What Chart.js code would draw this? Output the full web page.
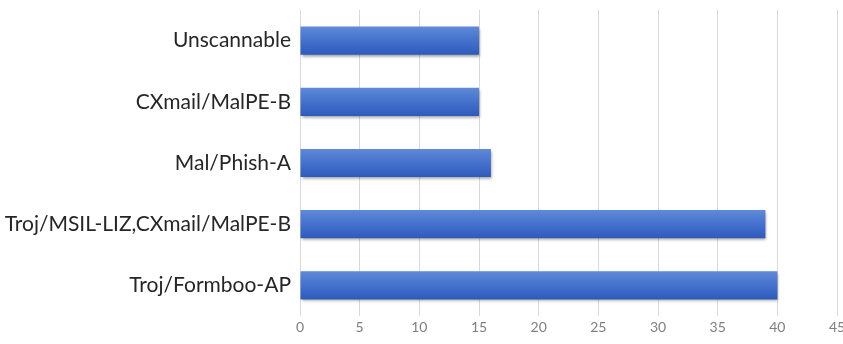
<!DOCTYPE html>
<html>
<head>
<meta charset="utf-8">
<script src="https://cdn.jsdelivr.net/npm/chart.js@4"></script>
<style>
  html, body { margin: 0; padding: 0; background: #fff; }
  #wrap { width: 843px; height: 344px; }
</style>
</head>
<body>
<div id="wrap"><canvas id="barChart" width="843" height="344"></canvas></div>
<script>
const categories = ['Unscannable', 'CXmail/MalPE-B', 'Mal/Phish-A', 'Troj/MSIL-LIZ,CXmail/MalPE-B', 'Troj/Formboo-AP'];
const counts = [15, 15, 16, 39, 40];
const xTicks = [0, 5, 10, 15, 20, 25, 30, 35, 40, 45];

const BAR_PCT = 0.46;

// soft drop shadow under the bars
const barShadow = {
  id: 'barShadow',
  beforeDatasetsDraw(chart) {
    const ctx = chart.ctx;
    ctx.save();
    ctx.shadowColor = 'rgba(0,0,0,0.4)';
    ctx.shadowBlur = 3;
    ctx.shadowOffsetX = 1;
    ctx.shadowOffsetY = 2;
  },
  afterDatasetsDraw(chart) {
    chart.ctx.restore();
  }
};

// vertical gradient per bar, worked out from the category scale
function barFill(context) {
  const chart = context.chart;
  const yScale = chart.scales.y;
  if (!yScale || context.dataIndex === undefined) return '#4472c4';
  const yc = yScale.getPixelForValue(context.dataIndex);
  const h = (yScale.height / categories.length) * BAR_PCT;
  if (!isFinite(yc) || !isFinite(h) || h <= 0) return '#4472c4';
  const g = chart.ctx.createLinearGradient(0, yc - h / 2, 0, yc + h / 2);
  g.addColorStop(0, '#5f8ad8');
  g.addColorStop(0.5, '#4471cc');
  g.addColorStop(1, '#2e5bbb');
  return g;
}

const ctx = document.getElementById('barChart').getContext('2d');
new Chart(ctx, {
  type: 'bar',
  data: {
    labels: categories,
    datasets: [{
      data: counts,
      backgroundColor: barFill,
      borderWidth: 0,
      categoryPercentage: 1,
      barPercentage: BAR_PCT
    }]
  },
  plugins: [barShadow],
  options: {
    indexAxis: 'y',
    responsive: false,
    animation: false,
    layout: { padding: { top: 10, right: 6, bottom: 0, left: 0 } },
    plugins: {
      legend: { display: false },
      tooltip: { enabled: false }
    },
    scales: {
      x: {
        min: 0,
        max: 45,
        afterBuildTicks: function (scale) {
          scale.ticks = xTicks.map(v => ({ value: v }));
        },
        afterFit: function (scale) {
          scale.height = 28;
          scale.paddingLeft = 0;
          scale.paddingRight = 0;
        },
        grid: { color: '#d9d9d9', lineWidth: 1, drawTicks: false },
        border: { display: false },
        ticks: {
          padding: 3,
          color: '#7f7f7f',
          font: { family: 'Lato', size: 14 }
        }
      },
      y: {
        afterFit: function (scale) {
          scale.width = 300;
          scale.paddingTop = 0;
          scale.paddingBottom = 0;
        },
        grid: { display: false, drawTicks: false },
        border: { display: false },
        ticks: {
          padding: 9,
          color: '#262626',
          font: { family: 'Lato', size: 21 }
        }
      }
    }
  }
});
</script>
</body>
</html>
